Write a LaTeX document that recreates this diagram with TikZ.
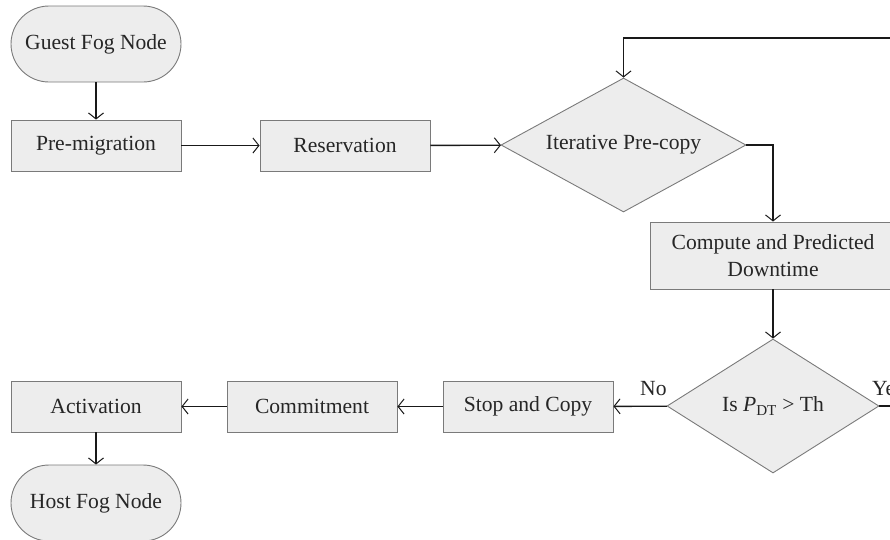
\documentclass[tikz,border=0pt]{standalone}
\usepackage{fontspec}
\setmainfont{Liberation Serif}
\usetikzlibrary{arrows.meta,shapes.geometric}
\definecolor{boxfill}{HTML}{EDEDED}
\definecolor{boxline}{HTML}{7A7A7A}
\tikzset{
  base/.style={draw=boxline, fill=boxfill, line width=0.9pt, inner sep=0pt,
    font=\fontsize{21.6}{27}\selectfont, text=black!85},
  proc/.style={base, rectangle, minimum width=170pt, minimum height=51pt},
  term/.style={base, rectangle, rounded corners=38pt, minimum width=170pt, minimum height=76pt},
  decide/.style={base, diamond, minimum height=134pt},
  conn/.style={line width=1.4pt, black!90, -{Straight Barb[length=6pt,width=15pt,line width=1pt]}},
  lbl/.style={font=\fontsize{21.6}{25}\selectfont, text=black!85, inner sep=0pt}
}
\begin{document}
\begin{tikzpicture}[x=1pt,y=-1pt]
\useasboundingbox (0,0) rectangle (890,539);
\node[term] (guest) at (96,44) {Guest Fog Node};
\node[proc] (pre) at (96,145.5) {Pre-migration};
\node[proc] (res) at (345,145.5) {Reservation};
\node[decide, aspect=1.83, minimum width=245pt] (iter) at (623.5,145) {Iterative Pre-copy};
\node[proc, minimum width=246pt, minimum height=67pt, align=center] (comp) at (773,255.5) {Compute and Predicted\\Downtime};
\node[decide, aspect=1.58, minimum width=212pt] (isp) at (773,406) {Is \textit{P}\textsubscript{DT} > Th};
\node[proc] (stop) at (528,406.5) {Stop and Copy};
\node[proc] (commit) at (312,406.5) {Commitment};
\node[proc] (act) at (96,406.5) {Activation};
\node[term] (host) at (96,503) {Host Fog Node};
\coordinate (c1) at (905,406);
\coordinate (c2) at (905,38);
\node[lbl, anchor=west] (yes) at (872,389) {Yes};
\node[lbl, anchor=west] (no) at (640,389) {No};

\draw[conn] (guest) -- (pre);
\draw[conn] (pre) -- (res);
\draw[conn] (res) -- (iter);
\draw[conn] (iter.east) -| (comp.north);
\draw[conn] (comp) -- (isp);
\draw[conn] (isp) -- (stop);
\draw[conn] (stop) -- (commit);
\draw[conn] (commit) -- (act);
\draw[conn] (act) -- (host);
\draw[conn] (isp.east) -- (c1) -- (c2) -| (iter.north);
\end{tikzpicture}
\end{document}
